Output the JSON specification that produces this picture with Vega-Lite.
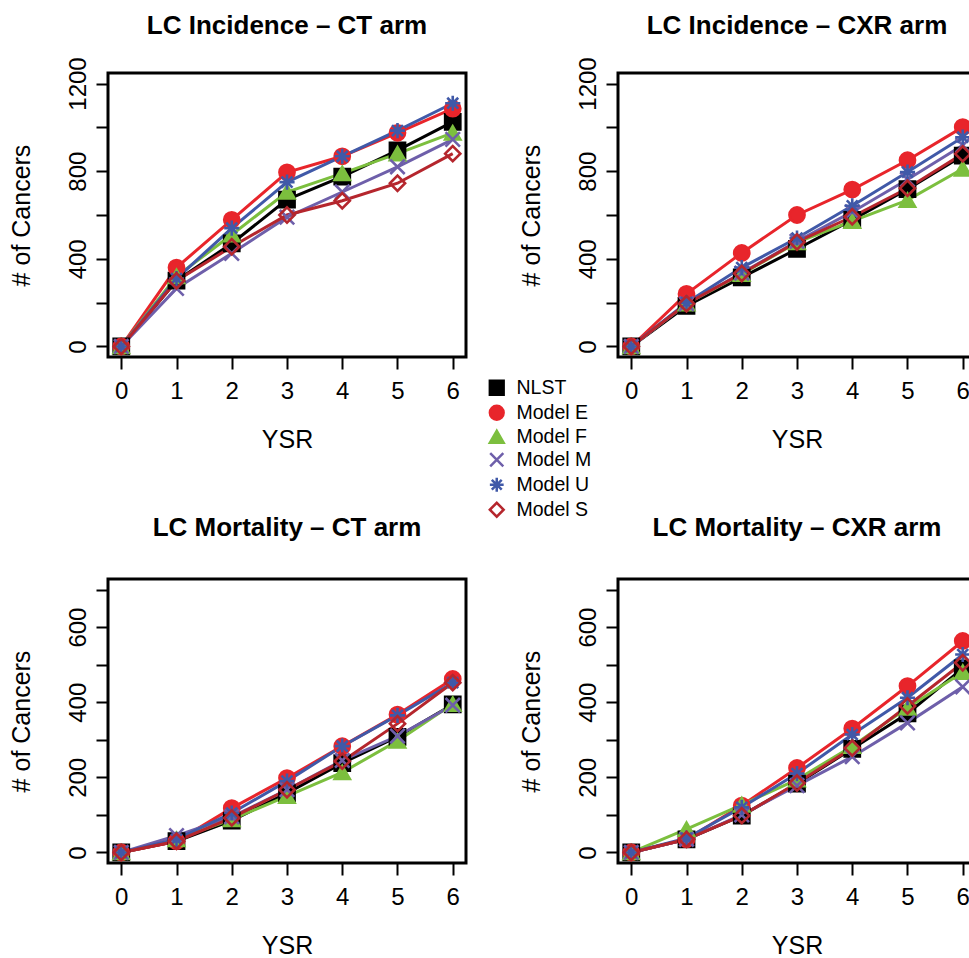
{
  "$schema": "https://vega.github.io/schema/vega-lite/v6.json",
  "padding": {"left": 7, "top": 11, "right": 0, "bottom": 0},
  "background": "white",
  "data": {"values": [
    {"panel":"a","series":"NLST","ysr":0,"value":0},{"panel":"a","series":"NLST","ysr":1,"value":300},{"panel":"a","series":"NLST","ysr":2,"value":470},{"panel":"a","series":"NLST","ysr":3,"value":670},{"panel":"a","series":"NLST","ysr":4,"value":775},{"panel":"a","series":"NLST","ysr":5,"value":895},{"panel":"a","series":"NLST","ysr":6,"value":1025},
    {"panel":"a","series":"Model E","ysr":0,"value":0},{"panel":"a","series":"Model E","ysr":1,"value":360},{"panel":"a","series":"Model E","ysr":2,"value":578},{"panel":"a","series":"Model E","ysr":3,"value":795},{"panel":"a","series":"Model E","ysr":4,"value":868},{"panel":"a","series":"Model E","ysr":5,"value":975},{"panel":"a","series":"Model E","ysr":6,"value":1085},
    {"panel":"a","series":"Model F","ysr":0,"value":0},{"panel":"a","series":"Model F","ysr":1,"value":320},{"panel":"a","series":"Model F","ysr":2,"value":510},{"panel":"a","series":"Model F","ysr":3,"value":705},{"panel":"a","series":"Model F","ysr":4,"value":790},{"panel":"a","series":"Model F","ysr":5,"value":880},{"panel":"a","series":"Model F","ysr":6,"value":975},
    {"panel":"a","series":"Model M","ysr":0,"value":0},{"panel":"a","series":"Model M","ysr":1,"value":265},{"panel":"a","series":"Model M","ysr":2,"value":425},{"panel":"a","series":"Model M","ysr":3,"value":590},{"panel":"a","series":"Model M","ysr":4,"value":705},{"panel":"a","series":"Model M","ysr":5,"value":820},{"panel":"a","series":"Model M","ysr":6,"value":945},
    {"panel":"a","series":"Model U","ysr":0,"value":0},{"panel":"a","series":"Model U","ysr":1,"value":310},{"panel":"a","series":"Model U","ysr":2,"value":540},{"panel":"a","series":"Model U","ysr":3,"value":750},{"panel":"a","series":"Model U","ysr":4,"value":868},{"panel":"a","series":"Model U","ysr":5,"value":985},{"panel":"a","series":"Model U","ysr":6,"value":1110},
    {"panel":"a","series":"Model S","ysr":0,"value":0},{"panel":"a","series":"Model S","ysr":1,"value":300},{"panel":"a","series":"Model S","ysr":2,"value":455},{"panel":"a","series":"Model S","ysr":3,"value":600},{"panel":"a","series":"Model S","ysr":4,"value":665},{"panel":"a","series":"Model S","ysr":5,"value":745},{"panel":"a","series":"Model S","ysr":6,"value":880},

    {"panel":"b","series":"NLST","ysr":0,"value":0},{"panel":"b","series":"NLST","ysr":1,"value":185},{"panel":"b","series":"NLST","ysr":2,"value":315},{"panel":"b","series":"NLST","ysr":3,"value":445},{"panel":"b","series":"NLST","ysr":4,"value":578},{"panel":"b","series":"NLST","ysr":5,"value":718},{"panel":"b","series":"NLST","ysr":6,"value":871},
    {"panel":"b","series":"Model E","ysr":0,"value":0},{"panel":"b","series":"Model E","ysr":1,"value":240},{"panel":"b","series":"Model E","ysr":2,"value":427},{"panel":"b","series":"Model E","ysr":3,"value":600},{"panel":"b","series":"Model E","ysr":4,"value":716},{"panel":"b","series":"Model E","ysr":5,"value":850},{"panel":"b","series":"Model E","ysr":6,"value":1001},
    {"panel":"b","series":"Model F","ysr":0,"value":0},{"panel":"b","series":"Model F","ysr":1,"value":195},{"panel":"b","series":"Model F","ysr":2,"value":330},{"panel":"b","series":"Model F","ysr":3,"value":475},{"panel":"b","series":"Model F","ysr":4,"value":572},{"panel":"b","series":"Model F","ysr":5,"value":668},{"panel":"b","series":"Model F","ysr":6,"value":811},
    {"panel":"b","series":"Model M","ysr":0,"value":0},{"panel":"b","series":"Model M","ysr":1,"value":195},{"panel":"b","series":"Model M","ysr":2,"value":335},{"panel":"b","series":"Model M","ysr":3,"value":480},{"panel":"b","series":"Model M","ysr":4,"value":614},{"panel":"b","series":"Model M","ysr":5,"value":762},{"panel":"b","series":"Model M","ysr":6,"value":918},
    {"panel":"b","series":"Model U","ysr":0,"value":0},{"panel":"b","series":"Model U","ysr":1,"value":200},{"panel":"b","series":"Model U","ysr":2,"value":360},{"panel":"b","series":"Model U","ysr":3,"value":495},{"panel":"b","series":"Model U","ysr":4,"value":642},{"panel":"b","series":"Model U","ysr":5,"value":796},{"panel":"b","series":"Model U","ysr":6,"value":955},
    {"panel":"b","series":"Model S","ysr":0,"value":0},{"panel":"b","series":"Model S","ysr":1,"value":195},{"panel":"b","series":"Model S","ysr":2,"value":333},{"panel":"b","series":"Model S","ysr":3,"value":477},{"panel":"b","series":"Model S","ysr":4,"value":592},{"panel":"b","series":"Model S","ysr":5,"value":722},{"panel":"b","series":"Model S","ysr":6,"value":879},

    {"panel":"c","series":"NLST","ysr":0,"value":0},{"panel":"c","series":"NLST","ysr":1,"value":30},{"panel":"c","series":"NLST","ysr":2,"value":85},{"panel":"c","series":"NLST","ysr":3,"value":158},{"panel":"c","series":"NLST","ysr":4,"value":238},{"panel":"c","series":"NLST","ysr":5,"value":308},{"panel":"c","series":"NLST","ysr":6,"value":394},
    {"panel":"c","series":"Model E","ysr":0,"value":0},{"panel":"c","series":"Model E","ysr":1,"value":30},{"panel":"c","series":"Model E","ysr":2,"value":118},{"panel":"c","series":"Model E","ysr":3,"value":198},{"panel":"c","series":"Model E","ysr":4,"value":283},{"panel":"c","series":"Model E","ysr":5,"value":367},{"panel":"c","series":"Model E","ysr":6,"value":462},
    {"panel":"c","series":"Model F","ysr":0,"value":0},{"panel":"c","series":"Model F","ysr":1,"value":35},{"panel":"c","series":"Model F","ysr":2,"value":88},{"panel":"c","series":"Model F","ysr":3,"value":150},{"panel":"c","series":"Model F","ysr":4,"value":213},{"panel":"c","series":"Model F","ysr":5,"value":297},{"panel":"c","series":"Model F","ysr":6,"value":395},
    {"panel":"c","series":"Model M","ysr":0,"value":0},{"panel":"c","series":"Model M","ysr":1,"value":45},{"panel":"c","series":"Model M","ysr":2,"value":95},{"panel":"c","series":"Model M","ysr":3,"value":167},{"panel":"c","series":"Model M","ysr":4,"value":245},{"panel":"c","series":"Model M","ysr":5,"value":310},{"panel":"c","series":"Model M","ysr":6,"value":392},
    {"panel":"c","series":"Model U","ysr":0,"value":0},{"panel":"c","series":"Model U","ysr":1,"value":35},{"panel":"c","series":"Model U","ysr":2,"value":105},{"panel":"c","series":"Model U","ysr":3,"value":190},{"panel":"c","series":"Model U","ysr":4,"value":283},{"panel":"c","series":"Model U","ysr":5,"value":365},{"panel":"c","series":"Model U","ysr":6,"value":452},
    {"panel":"c","series":"Model S","ysr":0,"value":0},{"panel":"c","series":"Model S","ysr":1,"value":30},{"panel":"c","series":"Model S","ysr":2,"value":92},{"panel":"c","series":"Model S","ysr":3,"value":167},{"panel":"c","series":"Model S","ysr":4,"value":243},{"panel":"c","series":"Model S","ysr":5,"value":343},{"panel":"c","series":"Model S","ysr":6,"value":452},

    {"panel":"d","series":"NLST","ysr":0,"value":0},{"panel":"d","series":"NLST","ysr":1,"value":35},{"panel":"d","series":"NLST","ysr":2,"value":98},{"panel":"d","series":"NLST","ysr":3,"value":183},{"panel":"d","series":"NLST","ysr":4,"value":276},{"panel":"d","series":"NLST","ysr":5,"value":370},{"panel":"d","series":"NLST","ysr":6,"value":490},
    {"panel":"d","series":"Model E","ysr":0,"value":0},{"panel":"d","series":"Model E","ysr":1,"value":35},{"panel":"d","series":"Model E","ysr":2,"value":125},{"panel":"d","series":"Model E","ysr":3,"value":225},{"panel":"d","series":"Model E","ysr":4,"value":330},{"panel":"d","series":"Model E","ysr":5,"value":443},{"panel":"d","series":"Model E","ysr":6,"value":563},
    {"panel":"d","series":"Model F","ysr":0,"value":0},{"panel":"d","series":"Model F","ysr":1,"value":62},{"panel":"d","series":"Model F","ysr":2,"value":127},{"panel":"d","series":"Model F","ysr":3,"value":194},{"panel":"d","series":"Model F","ysr":4,"value":283},{"panel":"d","series":"Model F","ysr":5,"value":385},{"panel":"d","series":"Model F","ysr":6,"value":480},
    {"panel":"d","series":"Model M","ysr":0,"value":0},{"panel":"d","series":"Model M","ysr":1,"value":35},{"panel":"d","series":"Model M","ysr":2,"value":100},{"panel":"d","series":"Model M","ysr":3,"value":178},{"panel":"d","series":"Model M","ysr":4,"value":255},{"panel":"d","series":"Model M","ysr":5,"value":345},{"panel":"d","series":"Model M","ysr":6,"value":441},
    {"panel":"d","series":"Model U","ysr":0,"value":0},{"panel":"d","series":"Model U","ysr":1,"value":38},{"panel":"d","series":"Model U","ysr":2,"value":120},{"panel":"d","series":"Model U","ysr":3,"value":210},{"panel":"d","series":"Model U","ysr":4,"value":314},{"panel":"d","series":"Model U","ysr":5,"value":412},{"panel":"d","series":"Model U","ysr":6,"value":527},
    {"panel":"d","series":"Model S","ysr":0,"value":0},{"panel":"d","series":"Model S","ysr":1,"value":35},{"panel":"d","series":"Model S","ysr":2,"value":98},{"panel":"d","series":"Model S","ysr":3,"value":185},{"panel":"d","series":"Model S","ysr":4,"value":278},{"panel":"d","series":"Model S","ysr":5,"value":390},{"panel":"d","series":"Model S","ysr":6,"value":505}
  ]},
  "vconcat": [
    {"hconcat": [
      {"title": {"text": "LC Incidence – CT arm", "offset": 18}, "width": 358, "height": 284,
       "transform": [{"filter": "datum.panel == 'a'"}],
       "encoding": {
         "x": {"field": "ysr", "type": "quantitative", "title": "YSR", "scale": {"domain": [-0.24, 6.24], "nice": false, "zero": false}, "axis": {"values": [0,1,2,3,4,5,6]}},
         "y": {"field": "value", "type": "quantitative", "title": "# of Cancers", "scale": {"domain": [-48, 1248], "nice": false, "zero": false}, "axis": {"format": "d", "values": [0,200,400,600,800,1000,1200], "labelExpr": "datum.value % 400 == 0 ? datum.label : ''"}}
       },
       "layer": [
         {"mark": {"type": "line", "strokeWidth": 3}, "encoding": {"color": {"field": "series", "type": "nominal", "legend": null, "scale": {"range": ["#E8252B","#7CBF3E","#6E5FAA","#B5262D","#4059A8","#000000"]}}}},
         {"mark": {"type": "point", "filled": true, "opacity": 1, "size": 230, "strokeWidth": 2.6},
          "encoding": {
            "shape": {"field": "series", "type": "nominal", "scale": {"domain": ["NLST","Model E","Model F","Model M","Model U","Model S"], "range": ["square","circle","triangle-up","M-0.95,-0.95L0.95,0.95M-0.95,0.95L0.95,-0.95","M-1,0L1,0M0,-1L0,1M-0.72,-0.72L0.72,0.72M-0.72,0.72L0.72,-0.72","diamond"]}, "legend": {"title": null, "orient": "none", "legendX": 379, "legendY": 305}},
            "fill": {"field": "series", "type": "nominal", "scale": {"domain": ["NLST","Model E","Model F","Model M","Model U","Model S"], "range": ["#000000","#E8252B","#7CBF3E","transparent","transparent","transparent"]}, "legend": {"title": null, "orient": "none", "legendX": 379, "legendY": 305}},
            "stroke": {"field": "series", "type": "nominal", "scale": {"domain": ["NLST","Model E","Model F","Model M","Model U","Model S"], "range": ["#000000","#E8252B","#7CBF3E","#6E5FAA","#4059A8","#B5262D"]}, "legend": {"title": null, "orient": "none", "legendX": 379, "legendY": 305}}
          }}
       ]},
      {"title": {"text": "LC Incidence – CXR arm", "offset": 18}, "width": 358, "height": 284,
       "transform": [{"filter": "datum.panel == 'b'"}],
       "encoding": {
         "x": {"field": "ysr", "type": "quantitative", "title": "YSR", "scale": {"domain": [-0.24, 6.24], "nice": false, "zero": false}, "axis": {"values": [0,1,2,3,4,5,6]}},
         "y": {"field": "value", "type": "quantitative", "title": "# of Cancers", "scale": {"domain": [-48, 1248], "nice": false, "zero": false}, "axis": {"format": "d", "values": [0,200,400,600,800,1000,1200], "labelExpr": "datum.value % 400 == 0 ? datum.label : ''"}}
       },
       "layer": [
         {"mark": {"type": "line", "strokeWidth": 3}, "encoding": {"color": {"field": "series", "type": "nominal", "legend": null}}},
         {"mark": {"type": "point", "filled": true, "opacity": 1, "size": 230, "strokeWidth": 2.6},
          "encoding": {
            "shape": {"field": "series", "type": "nominal", "legend": {"title": null, "orient": "none", "legendX": 379, "legendY": 305}},
            "fill": {"field": "series", "type": "nominal", "legend": {"title": null, "orient": "none", "legendX": 379, "legendY": 305}},
            "stroke": {"field": "series", "type": "nominal", "legend": {"title": null, "orient": "none", "legendX": 379, "legendY": 305}}
          }}
       ]}
    ], "spacing": 49},
    {"hconcat": [
      {"title": {"text": "LC Mortality – CT arm", "frame": "group", "offset": 38}, "width": 358, "height": 284,
       "transform": [{"filter": "datum.panel == 'c'"}],
       "encoding": {
         "x": {"field": "ysr", "type": "quantitative", "title": "YSR", "scale": {"domain": [-0.24, 6.24], "nice": false, "zero": false}, "axis": {"values": [0,1,2,3,4,5,6]}},
         "y": {"field": "value", "type": "quantitative", "title": "# of Cancers", "scale": {"domain": [-28, 728], "nice": false, "zero": false}, "axis": {"format": "d", "values": [0,100,200,300,400,500,600,700], "labelExpr": "datum.value % 200 == 0 ? datum.label : ''"}}
       },
       "layer": [
         {"mark": {"type": "line", "strokeWidth": 3}, "encoding": {"color": {"field": "series", "type": "nominal", "legend": null}}},
         {"mark": {"type": "point", "filled": true, "opacity": 1, "size": 230, "strokeWidth": 2.6},
          "encoding": {
            "shape": {"field": "series", "type": "nominal", "legend": {"title": null, "orient": "none", "legendX": 379, "legendY": 305}},
            "fill": {"field": "series", "type": "nominal", "legend": {"title": null, "orient": "none", "legendX": 379, "legendY": 305}},
            "stroke": {"field": "series", "type": "nominal", "legend": {"title": null, "orient": "none", "legendX": 379, "legendY": 305}}
          }}
       ]},
      {"title": {"text": "LC Mortality – CXR arm", "frame": "group", "offset": 38}, "width": 358, "height": 284,
       "transform": [{"filter": "datum.panel == 'd'"}],
       "encoding": {
         "x": {"field": "ysr", "type": "quantitative", "title": "YSR", "scale": {"domain": [-0.24, 6.24], "nice": false, "zero": false}, "axis": {"values": [0,1,2,3,4,5,6]}},
         "y": {"field": "value", "type": "quantitative", "title": "# of Cancers", "scale": {"domain": [-28, 728], "nice": false, "zero": false}, "axis": {"format": "d", "values": [0,100,200,300,400,500,600,700], "labelExpr": "datum.value % 200 == 0 ? datum.label : ''"}}
       },
       "layer": [
         {"mark": {"type": "line", "strokeWidth": 3}, "encoding": {"color": {"field": "series", "type": "nominal", "legend": null}}},
         {"mark": {"type": "point", "filled": true, "opacity": 1, "size": 230, "strokeWidth": 2.6},
          "encoding": {
            "shape": {"field": "series", "type": "nominal", "legend": {"title": null, "orient": "none", "legendX": 379, "legendY": 305}},
            "fill": {"field": "series", "type": "nominal", "legend": {"title": null, "orient": "none", "legendX": 379, "legendY": 305}},
            "stroke": {"field": "series", "type": "nominal", "legend": {"title": null, "orient": "none", "legendX": 379, "legendY": 305}}
          }}
       ]}
    ], "spacing": 49}
  ],
  "spacing": 59,
  "config": {
    "font": "Liberation Sans",
    "view": {"stroke": "black", "strokeWidth": 3},
    "axis": {"grid": false, "domain": false, "tickColor": "black", "tickWidth": 2, "tickSize": 12,
             "labelFont": "Liberation Sans", "labelFontSize": 24, "labelColor": "black",
             "titleFont": "Liberation Sans", "titleFontSize": 25, "titleFontWeight": "normal", "titleColor": "black",
             "labelOverlap": false, "labelFlush": false},
    "axisX": {"labelPadding": 10, "titlePadding": 24},
    "axisY": {"labelAngle": -90, "labelAlign": "center", "labelBaseline": "bottom", "labelPadding": 6, "titlePadding": 32},
    "title": {"font": "Liberation Sans", "fontSize": 26, "fontWeight": "bold", "color": "black", "anchor": "middle"},
    "legend": {"labelFont": "Liberation Sans", "labelFontSize": 19.5, "labelColor": "black", "symbolSize": 190, "symbolStrokeWidth": 2.5, "rowPadding": 0, "labelOffset": 10, "symbolOpacity": 1, "padding": 0}
  }
}
